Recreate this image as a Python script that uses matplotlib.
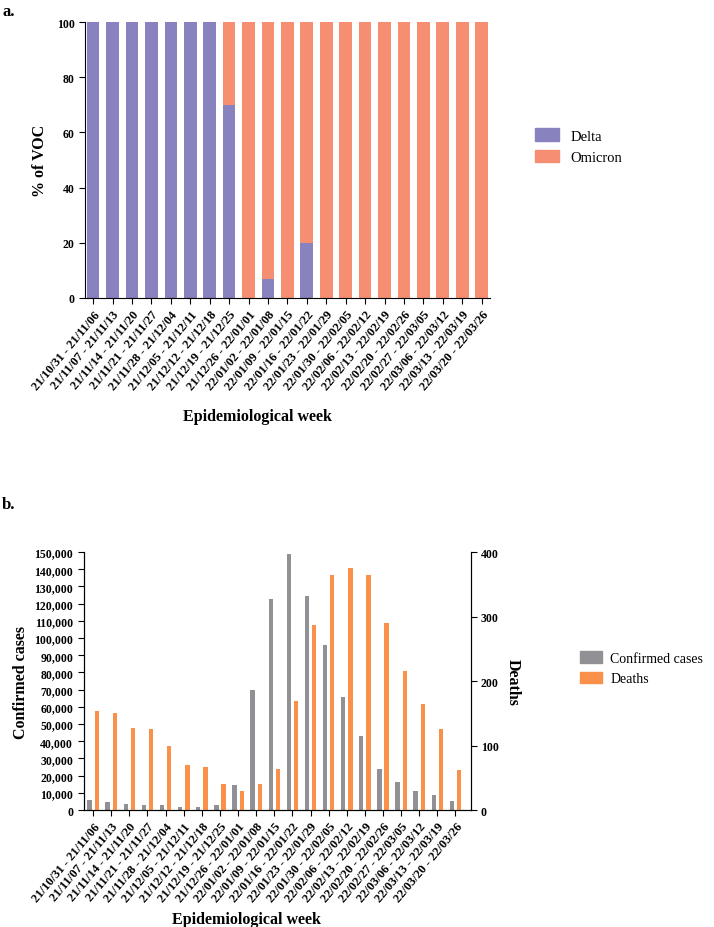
import numpy as np
import matplotlib.pyplot as plt
from matplotlib.patches import Patch

plt.rcParams['font.family'] = ['Liberation Serif', 'DejaVu Serif']
plt.rcParams['font.weight'] = 'bold'
plt.rcParams['axes.labelweight'] = 'bold'

weeks = ['21/10/31 - 21/11/06', '21/11/07 - 21/11/13', '21/11/14 - 21/11/20',
         '21/11/21 - 21/11/27', '21/11/28 - 21/12/04', '21/12/05 - 21/12/11',
         '21/12/12 - 21/12/18', '21/12/19 - 21/12/25', '21/12/26 - 22/01/01',
         '22/01/02 - 22/01/08', '22/01/09 - 22/01/15', '22/01/16 - 22/01/22',
         '22/01/23 - 22/01/29', '22/01/30 - 22/02/05', '22/02/06 - 22/02/12',
         '22/02/13 - 22/02/19', '22/02/20 - 22/02/26', '22/02/27 - 22/03/05',
         '22/03/06 - 22/03/12', '22/03/13 - 22/03/19', '22/03/20 - 22/03/26']

# % of VOC
delta = [100, 100, 100, 100, 100, 100, 100, 70, 0, 7, 0, 20,
         0, 0, 0, 0, 0, 0, 0, 0, 0]
omicron = [100 - d for d in delta]

# weekly counts
cases = [5600, 4500, 3700, 2900, 2700, 1750, 1750, 3100, 14750, 69650,
         122600, 149000, 124400, 96000, 66000, 43300, 23900, 16100,
         11250, 8700, 5200]
deaths = [154, 151, 127, 125, 99, 70, 67, 40, 29, 41, 63, 169,
          287, 365, 376, 365, 290, 215, 164, 125, 62]

c_delta = '#8882be'
c_omi = '#f68e72'
c_cases = '#909095'
c_deaths = '#f9914a'

x = np.arange(len(weeks))

fig = plt.figure(figsize=(7.14, 9.28), dpi=100)

# ---- panel a ----
ax1 = fig.add_axes([0.119, 0.678, 0.567, 0.297])
ax1.bar(x, delta, width=0.65, color=c_delta)
ax1.bar(x, omicron, width=0.65, bottom=delta, color=c_omi)
ax1.set_xlim(-0.42, 20.42)
ax1.set_ylim(0, 100)
ax1.set_yticks([0, 20, 40, 60, 80, 100])
ax1.set_xticks(x)
ax1.set_xticklabels(weeks, rotation=50, ha='right', rotation_mode='anchor', fontsize=9)
ax1.tick_params(axis='y', labelsize=8.5, length=4)
ax1.tick_params(axis='x', length=4)
for s in ['top', 'right']:
    ax1.spines[s].set_visible(False)
ax1.set_ylabel('% of VOC', fontsize=11.5, labelpad=6)
ax1.set_xlabel('Epidemiological week', fontsize=11.5)
ax1.xaxis.set_label_coords(0.427, -0.4)
ax1.legend(handles=[Patch(color=c_delta, label='Delta'), Patch(color=c_omi, label='Omicron')],
           loc='center left', bbox_to_anchor=(1.08, 0.55), frameon=False,
           prop={'weight': 'normal', 'size': 10.5}, handlelength=1.6, handleheight=0.9)
fig.text(0.003, 0.987, 'a.', fontsize=12, va='center')

# ---- panel b ----
ax2 = fig.add_axes([0.117, 0.126, 0.542, 0.278])
ax2.bar(x - 0.2, cases, width=0.24, color=c_cases)
ax3 = ax2.twinx()
ax3.bar(x + 0.2, deaths, width=0.24, color=c_deaths)
ax2.set_xlim(-0.53, 20.83)
ax2.set_ylim(0, 150000)
ax3.set_ylim(0, 400)
ax2.set_yticks(np.arange(0, 150001, 10000))
ax2.set_yticklabels(['0'] + ['{:,}'.format(v) for v in range(10000, 150001, 10000)])
ax3.set_yticks([0, 100, 200, 300, 400])
ax2.set_xticks(x)
ax2.set_xticklabels(weeks, rotation=50, ha='right', rotation_mode='anchor', fontsize=9)
ax2.tick_params(axis='y', labelsize=8.5, length=4)
ax2.tick_params(axis='x', length=4)
ax3.tick_params(axis='y', labelsize=8.5, length=4)
ax2.spines['top'].set_visible(False)
ax3.spines['top'].set_visible(False)
ax2.set_ylabel('Confirmed cases', fontsize=11.5, labelpad=4)
ax3.set_ylabel('Deaths', fontsize=11.5, rotation=-90, labelpad=16)
ax2.set_xlabel('Epidemiological week', fontsize=11.5)
ax2.xaxis.set_label_coords(0.422, -0.393)
ax3.legend(handles=[Patch(color=c_cases, label='Confirmed cases'), Patch(color=c_deaths, label='Deaths')],
           loc='center left', bbox_to_anchor=(1.25, 0.55), frameon=False,
           prop={'weight': 'normal', 'size': 10}, handlelength=1.6, handleheight=0.9,
           handletextpad=0.6)
fig.text(0.003, 0.456, 'b.', fontsize=12, va='center')

plt.savefig('out.png', dpi=100)
